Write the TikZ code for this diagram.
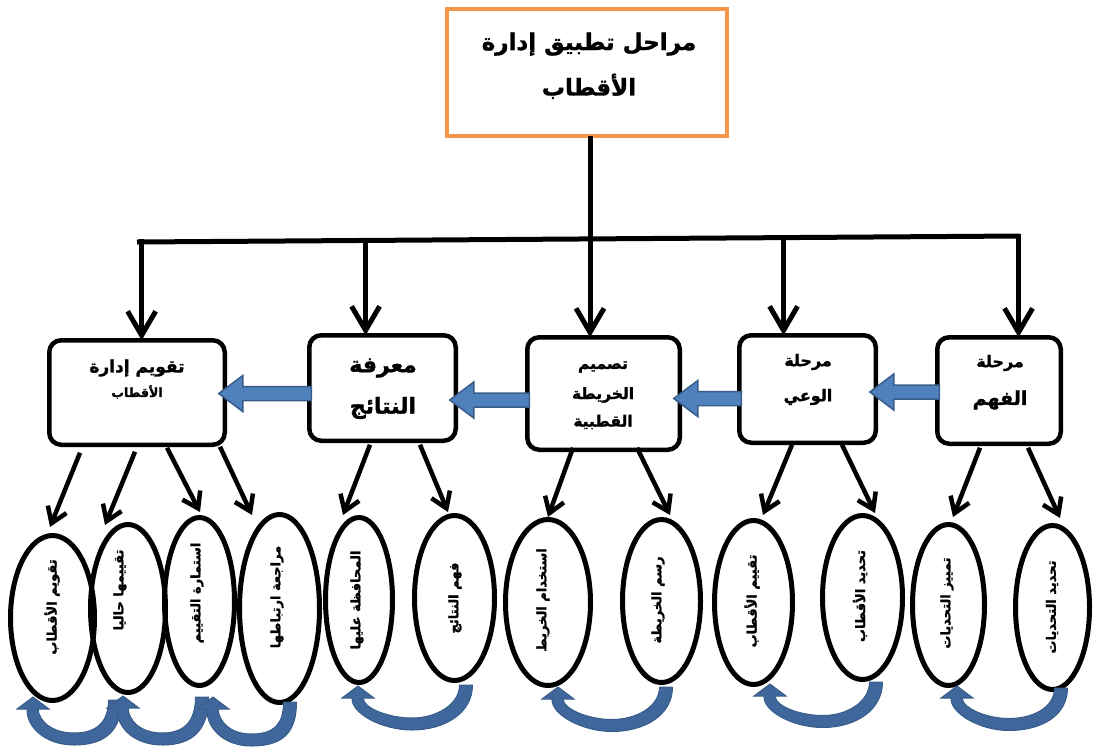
\documentclass[tikz,border=0pt]{standalone}
\usepackage{fontspec}
\usetikzlibrary{shapes.geometric,arrows.meta,calc}
\TeXXeTstate=1
\newfontfamily\arabicfont[Script=Arabic, BoldFeatures={FakeBold=1.5}]{DejaVu Sans}
\definecolor{frameorange}{RGB}{247,150,70}
\definecolor{blockfill}{RGB}{79,129,189}
\definecolor{blockline}{RGB}{56,93,138}
\definecolor{curvefill}{RGB}{64,103,156}
\newcommand\ar[1]{\beginR #1\endR}
\newcommand\fs[1]{\fontsize{#1}{#1}\selectfont}
% horizontal block arrow: tail at the first anchor's x, tip at the second anchor
\newcommand\blockarrow[3]{%
  \filldraw[blockarr]
    ($(#1 |- #2)+(2,#3-7)$) -- ($(#2)+(18,#3-7)$) -- ($(#2)+(18,#3-18)$)
    -- ($(#2)+(-6,#3)$) -- ($(#2)+(18,#3+18)$) -- ($(#2)+(18,#3+7)$)
    -- ($(#1 |- #2)+(2,#3+7)$) -- cycle;}
% U-shaped block arrow: #1 tip, #2 tail centre, #3 depth below the tip
\newcommand\uarrow[3]{%
  \coordinate (ut) at #1;
  \coordinate (us) at #2;
  \coordinate (um) at ($(ut)!0.5!(us)$);
  \filldraw[curvearr]
    ($(us)+(6.5,0)$) .. controls ($(us)+(6.5,#3*0.65)$) and ($(um)+(32,#3)$) .. ($(um)+(0,#3)$)
    .. controls ($(um)+(-30,#3)$) and ($(ut)+(-7,#3*0.6)$) .. ($(ut)+(-6,11)$)
    -- ($(ut)+(-16,11)$) -- ($(ut)+(0,-1)$) -- ($(ut)+(16,11)$) -- ($(ut)+(5,11)$)
    .. controls ($(ut)+(6,#3*0.5)$) and ($(um)+(-22,#3-12)$) .. ($(um)+(0,#3-12)$)
    .. controls ($(um)+(24,#3-12)$) and ($(us)+(-6.5,#3*0.45)$) .. ($(us)+(-6.5,0)$)
    -- cycle;}
\begin{document}
\begin{tikzpicture}[x=1pt,y=-1pt,
  phase/.style={draw, line width=4.5pt, rounded corners=12pt, inner sep=0pt, outer sep=0pt},
  oval/.style={draw, ellipse, line width=5pt, inner sep=0pt, outer sep=0pt},
  lab/.style={font=\arabicfont\bfseries, align=center, inner sep=0pt},
  conn/.style={line width=5pt, -{Straight Barb[length=24pt,width=28pt]}},
  subconn/.style={line width=4.5pt, -{Straight Barb[length=15pt,width=20pt]}},
  blockarr/.style={fill=blockfill, draw=blockline, line width=1.5pt, line join=miter},
  curvearr/.style={fill=curvefill, draw=blockline, line width=1pt, line join=miter},
]
\useasboundingbox (0,0) rectangle (1097,750);

% title box
\node[draw=frameorange, line width=4pt, minimum width=280pt, minimum height=127pt, inner sep=0pt, outer sep=0pt] (top) at (587,72.5) {};
\node[lab, font=\arabicfont\bfseries\fs{23}, text depth=0pt] (toplabel) at (589,64)
  {\ar{مراحل تطبيق إدارة}\\[17pt]\ar{الأقطاب}};

% phase boxes
\node[phase, minimum width=175.5pt, minimum height=104.5pt] (B1) at (137,392.5) {};
\node[phase, minimum width=146.5pt, minimum height=105.5pt] (B2) at (382.5,388) {};
\node[phase, minimum width=152.5pt, minimum height=112.5pt] (B3) at (603.5,393.5) {};
\node[phase, minimum width=136.5pt, minimum height=107.5pt] (B4) at (807.5,389) {};
\node[phase, minimum width=123.5pt, minimum height=106.5pt] (B5) at (999,390.5) {};

\node[lab, font=\arabicfont\bfseries\fs{17}] (B1a) at (137,368) {\ar{تقويم إدارة}};
\node[lab, font=\arabicfont\bfseries\fs{12.5}] (B1b) at (137,392) {\ar{الأقطاب}};
\node[lab, font=\arabicfont\bfseries\fs{22}] (B2a) at (383,368) {\ar{معرفة}};
\node[lab, font=\arabicfont\bfseries\fs{22}] (B2b) at (383,408) {\ar{النتائج}};
\node[lab, font=\arabicfont\bfseries\fs{15.5}] (B3a) at (603,367) {\ar{تصميم}};
\node[lab, font=\arabicfont\bfseries\fs{15.5}] (B3b) at (603,395) {\ar{الخريطة}};
\node[lab, font=\arabicfont\bfseries\fs{15.5}] (B3c) at (603,422) {\ar{القطبية}};
\node[lab, font=\arabicfont\bfseries\fs{16}] (B4a) at (808,362) {\ar{مرحلة}};
\node[lab, font=\arabicfont\bfseries\fs{16}] (B4b) at (808,397) {\ar{الوعي}};
\node[lab, font=\arabicfont\bfseries\fs{16}] (B5a) at (1000,363) {\ar{مرحلة}};
\node[lab, font=\arabicfont\bfseries\fs{19}] (B5b) at (1000,400) {\ar{الفهم}};

% distribution bar and drops
\coordinate (barL) at (137,242);
\coordinate (barR) at (1020,236);
\draw[line width=5pt] (barL) -- (barR);
\draw[conn] ([xshift=3pt]top.south) -- ([xshift=3pt]top.south |- B3.north);
\foreach \i/\x in {1/140, 2/364, 4/782, 5/1017} {
  \coordinate (drop\i) at ($(barL)!(\x,0)!(barR)$);
  \draw[conn] ([yshift=2.5pt]drop\i) -- (drop\i |- B\i.north);
}

% block arrows between phases
\blockarrow{B5.west}{B4.east}{3}
\blockarrow{B4.west}{B3.east}{5}
\blockarrow{B3.west}{B2.east}{12}
\blockarrow{B2.west}{B1.east}{1}

% step ellipses
\tikzset{lab/.append style={font=\arabicfont\bfseries\fs{13}}}
\node[oval, minimum width=84pt, minimum height=165pt] (E1) at (52.5,618) {};
\node[oval, minimum width=75pt, minimum height=168pt] (E2) at (128,608.5) {};
\node[oval, minimum width=70pt, minimum height=168pt] (E3) at (199.5,601.5) {};
\node[oval, minimum width=80pt, minimum height=188pt] (E4) at (279.5,608.5) {};
\node[oval, minimum width=67pt, minimum height=165pt] (E5) at (359,600) {};
\node[oval, minimum width=80pt, minimum height=165pt] (E6) at (454.5,598) {};
\node[oval, minimum width=85pt, minimum height=166pt] (E7) at (548,602.5) {};
\node[oval, minimum width=78pt, minimum height=163pt] (E8) at (661.5,601) {};
\node[oval, minimum width=78pt, minimum height=164pt] (E9) at (753.5,602.5) {};
\node[oval, minimum width=80pt, minimum height=164pt] (E10) at (862.5,597.5) {};
\node[oval, minimum width=72pt, minimum height=161pt] (E11) at (948.5,605) {};
\node[oval, minimum width=74pt, minimum height=164pt] (E12) at (1052.5,607.5) {};

\node[lab] (E1t) at (52,607) {\rotatebox{90}{\ar{تقويم الأقطاب}}};
\node[lab] (E2t) at (120,590) {\rotatebox{90}{\ar{تقييمها حاليا}}};
\node[lab] (E3t) at (197,593) {\rotatebox{90}{\ar{استمارة التقييم}}};
\node[lab] (E4t) at (277,597) {\rotatebox{90}{\ar{مراجعة ارتباطها}}};
\node[lab] (E5t) at (357,600) {\rotatebox{90}{\ar{المحافظة عليها}}};
\node[lab] (E6t) at (455,598) {\rotatebox{90}{\ar{فهم النتائج}}};
\node[lab] (E7t) at (543,600) {\rotatebox{90}{\ar{استخدام الخريط}}};
\node[lab] (E8t) at (658,600) {\rotatebox{90}{\ar{رسم الخريطة}}};
\node[lab] (E9t) at (752,601) {\rotatebox{90}{\ar{تقييم الأقطاب}}};
\node[lab] (E10t) at (860,596) {\rotatebox{90}{\ar{تحديد الأقطاب}}};
\node[lab] (E11t) at (947,603) {\rotatebox{90}{\ar{تمييز التحديات}}};
\node[lab] (E12t) at (1052,607) {\rotatebox{90}{\ar{تحديد التحديات}}};

% arrows from phases to their steps
\draw[subconn] ($(B1.south)+(-57,8)$) -- ($(E1.north)+(-2.5,-8.5)$);
\draw[subconn] ($(B1.south)+(-2,7)$) -- ($(E2.north)+(-23,0.5)$);
\draw[subconn] ($(B1.south)+(30,3)$) -- ($(E3.north)+(0.5,-5.5)$);
\draw[subconn] ($(B1.south)+(83,2)$) -- ($(E4.north)+(-27.5,0.5)$);
\draw[subconn] ($(B2.south)+(-12.5,4)$) -- ($(E5.north)+(-16,-2.5)$);
\draw[subconn] ($(B2.south)+(37.5,4)$) -- ($(E6.north)+(-6.5,-3.5)$);
\draw[subconn] ($(B3.south)+(-30.5,-2)$) -- ($(E7.north)+(0,-2.5)$);
\draw[subconn] ($(B3.south)+(33.5,-2)$) -- ($(E8.north)+(8.5,-4.5)$);
\draw[subconn] ($(B4.south)+(-15.5,2)$) -- ($(E9.north)+(9.5,-5.5)$);
\draw[subconn] ($(B4.south)+(34.5,2)$) -- ($(E10.north)+(12.5,-2.5)$);
\draw[subconn] ($(B5.south)+(-19,4)$) -- ($(E11.north)+(4.5,-7.5)$);
\draw[subconn] ($(B5.south)+(29,4)$) -- ($(E12.north)+(7.5,-7.5)$);

% curved arrows linking neighbouring steps
\uarrow{(33,698)}{(115,700)}{46}
\uarrow{(123,697)}{(202,697)}{48}
\uarrow{(213,698)}{(290,702)}{46}
\uarrow{(358,687)}{(466,685)}{44}
\uarrow{(558,688)}{(666,687)}{44}
\uarrow{(770,685)}{(876,682)}{44}
\uarrow{(957,687)}{(1061,688)}{43}
\end{tikzpicture}
\end{document}
